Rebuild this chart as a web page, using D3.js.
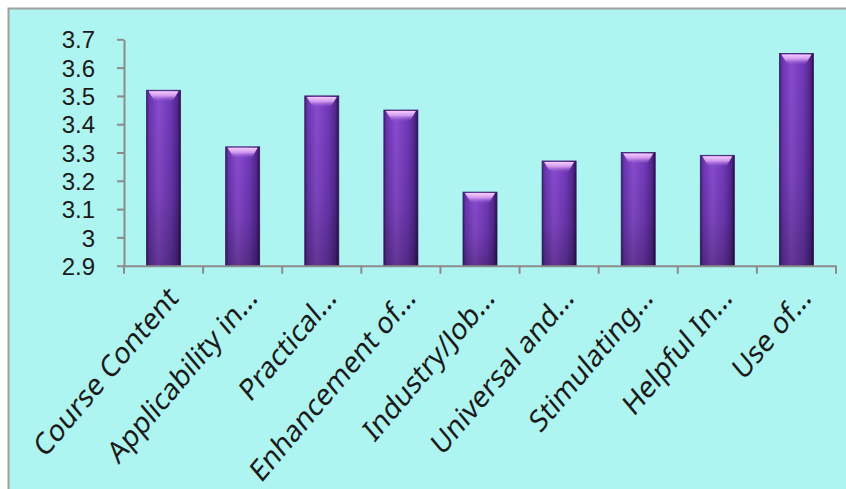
<!DOCTYPE html>
<html><head><meta charset="utf-8">
<script src="https://cdn.jsdelivr.net/npm/d3@7"></script>
<style>html,body{margin:0;padding:0;background:#fff;}svg{display:block;}</style>
</head><body>
<script>
const categories = ["Course Content","Applicability in...","Practical...","Enhancement of...","Industry/Job...","Universal and...","Stimulating...","Helpful In...","Use of..."];
const values = [3.52, 3.32, 3.50, 3.45, 3.16, 3.27, 3.30, 3.29, 3.65];
const yTicks = [2.9, 3.0, 3.1, 3.2, 3.3, 3.4, 3.5, 3.6, 3.7];
const yTickLabels = ["2.9","3","3.1","3.2","3.3","3.4","3.5","3.6","3.7"];

const W = 846, H = 489;
const svg = d3.select("body").append("svg").attr("width", W).attr("height", H);
const defs = svg.append("defs");

const gH = defs.append("linearGradient").attr("id","gh").attr("x1","0").attr("x2","1").attr("y1","0").attr("y2","0");
[[0,"#3c1f6e"],[0.08,"#6a35b0"],[0.35,"#8a4bd0"],[0.7,"#7039b8"],[0.9,"#55278f"],[1,"#2a1050"]].forEach(([o,c])=>gH.append("stop").attr("offset",o).attr("stop-color",c));
const gV = defs.append("linearGradient").attr("id","gv").attr("x1","0").attr("x2","0").attr("y1","0").attr("y2","1");
[[0,"#000",0],[0.6,"#000",0.1],[1,"#000",0.28]].forEach(([o,c,a])=>gV.append("stop").attr("offset",o).attr("stop-color",c).attr("stop-opacity",a));
const gT = defs.append("linearGradient").attr("id","gt").attr("x1","0").attr("x2","0").attr("y1","0").attr("y2","1");
[[0,"#f4d0ff",1],[0.45,"#dca2f2",0.9],[1,"#a06ad8",0]].forEach(([o,c,a])=>gT.append("stop").attr("offset",o).attr("stop-color",c).attr("stop-opacity",a));

// panel
svg.append("rect").attr("x",8.5).attr("y",8.5).attr("width",W).attr("height",H)
  .attr("fill","#aef4f0").attr("stroke","#a0a0a0").attr("stroke-width",2);

const x0 = 124, x1 = 836, yTop = 39.3, yBot = 265.7;
const x = d3.scaleBand().domain(categories).range([x0, x1]).paddingInner(0.57).paddingOuter(0.285);
const y = d3.scaleLinear().domain([2.9, 3.7]).range([yBot, yTop]);

// bars
const bars = svg.append("g").selectAll("g").data(values).enter().append("g");
bars.append("rect").attr("x",(d,i)=>x(categories[i])).attr("y",d=>y(d))
  .attr("width",x.bandwidth()).attr("height",d=>yBot-y(d)).attr("fill","url(#gh)")
  .attr("stroke","#3a1a66").attr("stroke-width",0.8);
bars.append("rect").attr("x",(d,i)=>x(categories[i])).attr("y",d=>y(d))
  .attr("width",x.bandwidth()).attr("height",d=>yBot-y(d)).attr("fill","url(#gv)");
bars.append("path").attr("d",(d,i)=>{
  const bx = x(categories[i]), bw = x.bandwidth(), ty = y(d);
  return `M${bx+2},${ty+1} L${bx+bw-2},${ty+1} L${bx+bw-8},${ty+11} L${bx+8},${ty+11} Z`;
}).attr("fill","url(#gt)");

// y axis
const yAxis = d3.axisLeft(y).tickValues(yTicks).tickFormat((d,i)=>yTickLabels[i]).tickSize(7).tickSizeOuter(0);
const gy = svg.append("g").attr("transform",`translate(${x0},0)`).call(yAxis);
gy.select(".domain").attr("stroke","#8c8c8c").attr("stroke-width",2);
gy.selectAll(".tick line").attr("stroke","#8c8c8c").attr("stroke-width",2);
gy.selectAll(".tick text").attr("x",-29).attr("dy","0.36em").attr("font-family","Liberation Sans").attr("font-size",24).attr("fill","#1a1a1a");

// x axis
const xAxis = d3.axisBottom(x).tickSize(0).tickSizeOuter(0);
const gx = svg.append("g").attr("transform",`translate(0,${yBot})`).call(xAxis);
gx.select(".domain").attr("stroke","#8c8c8c").attr("stroke-width",2);
gx.selectAll(".tick line").remove();
const step = x.step();
gx.selectAll(".bnd").data(d3.range(categories.length+1)).enter().append("line")
  .attr("x1",i=>x0+i*step).attr("x2",i=>x0+i*step).attr("y1",0).attr("y2",8)
  .attr("stroke","#8c8c8c").attr("stroke-width",2);
gx.selectAll(".tick text").attr("font-family","Noto Sans").attr("font-size",26).attr("fill","#1a1a1a")
  .attr("text-anchor","end").attr("dy",0).attr("y",0)
  .attr("transform","translate(16,34) scale(1,1.18) rotate(-45)");
</script>
</body></html>
